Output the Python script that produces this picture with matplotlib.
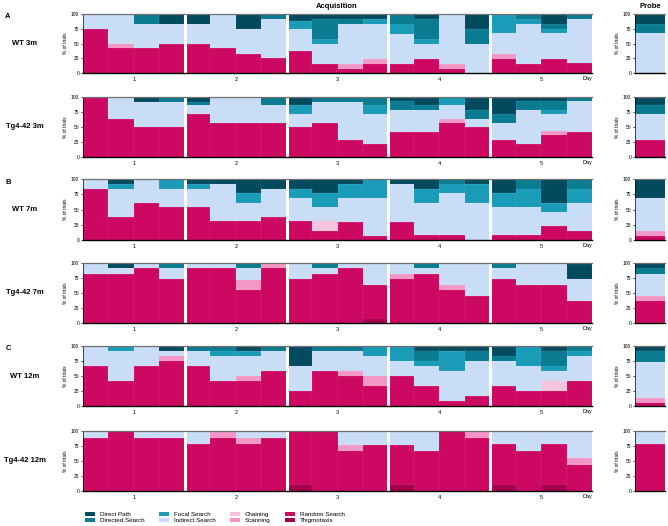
import numpy as np
import matplotlib.pyplot as plt
from matplotlib.patches import Patch

plt.rcParams['font.family'] = ['Liberation Sans', 'DejaVu Sans']

# stacking order, bottom to top
categories = ["Thigmotaxis", "Random Search", "Scanning", "Chaining",
              "Indirect Search", "Focal Search", "Directed Search", "Direct Path"]
colors = {
    "Direct Path": "#024b5f",
    "Directed Search": "#0a7b90",
    "Focal Search": "#1a9bb8",
    "Indirect Search": "#c9ddf6",
    "Chaining": "#f8c3df",
    "Scanning": "#f597c6",
    "Random Search": "#cd0862",
    "Thigmotaxis": "#a0004b",
}
legend_order = ["Direct Path", "Directed Search", "Focal Search", "Indirect Search",
                "Chaining", "Scanning", "Random Search", "Thigmotaxis"]
days = ["1", "2", "3", "4", "5"]
trials_per_day = 4

# % of trials per strategy, 5 days x 4 trials
wt_3m = {
    "Random Search":   [75, 42, 42, 50, 50, 42, 33, 25, 37, 16, 7, 16, 16, 24, 7, 0, 24, 16, 24, 17],
    "Scanning":        [0, 8, 0, 0, 0, 0, 0, 0, 0, 0, 9, 8, 0, 0, 9, 0, 9, 0, 0, 0],
    "Indirect Search": [25, 50, 41, 33, 33, 58, 42, 67, 38, 34, 67, 59, 50, 26, 84, 50, 34, 67, 43, 75],
    "Focal Search":    [0, 0, 0, 0, 0, 0, 0, 0, 13, 8, 0, 9, 17, 8, 0, 0, 33, 9, 8, 0],
    "Directed Search": [0, 0, 17, 0, 0, 0, 0, 8, 0, 33, 8, 0, 17, 34, 0, 25, 0, 8, 8, 8],
    "Direct Path":     [0, 0, 0, 17, 17, 0, 25, 0, 12, 9, 9, 8, 0, 8, 0, 25, 0, 0, 17, 0],
}
tg_3m = {
    "Random Search":   [100, 63, 50, 50, 71, 57, 57, 57, 50, 57, 28, 21, 41, 41, 57, 50, 28, 21, 36, 42],
    "Scanning":        [0, 0, 0, 0, 0, 0, 0, 0, 0, 0, 0, 0, 0, 0, 7, 0, 0, 0, 7, 0],
    "Indirect Search": [0, 37, 42, 42, 15, 43, 43, 29, 21, 35, 64, 50, 38, 38, 22, 14, 29, 58, 28, 51],
    "Focal Search":    [0, 0, 0, 0, 0, 0, 0, 0, 15, 0, 0, 15, 0, 0, 14, 0, 0, 0, 8, 0],
    "Directed Search": [0, 0, 0, 8, 6, 0, 0, 14, 0, 8, 8, 14, 14, 7, 0, 15, 14, 14, 14, 7],
    "Direct Path":     [0, 0, 8, 0, 8, 0, 0, 0, 14, 0, 0, 0, 7, 14, 0, 21, 29, 7, 7, 0],
}
wt_7m = {
    "Random Search":   [84, 38, 61, 54, 54, 31, 31, 38, 31, 15, 30, 7, 30, 8, 8, 0, 8, 8, 23, 15],
    "Chaining":        [0, 0, 0, 0, 0, 0, 0, 0, 0, 16, 0, 0, 0, 0, 0, 0, 0, 0, 0, 0],
    "Indirect Search": [16, 46, 39, 30, 30, 61, 30, 46, 38, 23, 39, 62, 62, 53, 69, 61, 46, 46, 23, 46],
    "Focal Search":    [0, 8, 0, 16, 8, 0, 16, 0, 15, 23, 23, 31, 0, 23, 15, 31, 23, 30, 15, 23],
    "Directed Search": [0, 0, 0, 0, 0, 0, 0, 0, 0, 0, 0, 0, 0, 0, 8, 0, 0, 16, 0, 16],
    "Direct Path":     [0, 8, 0, 0, 8, 8, 23, 16, 16, 23, 8, 0, 8, 16, 0, 8, 23, 0, 39, 0],
}
tg_7m = {
    "Thigmotaxis":     [0, 0, 0, 0, 0, 0, 0, 0, 0, 0, 0, 7, 0, 0, 0, 0, 0, 0, 0, 0],
    "Random Search":   [82, 82, 92, 73, 92, 92, 55, 92, 73, 82, 92, 57, 73, 82, 55, 45, 73, 64, 64, 36],
    "Scanning":        [0, 0, 0, 0, 0, 0, 17, 8, 0, 0, 0, 0, 9, 0, 9, 0, 0, 0, 0, 0],
    "Indirect Search": [18, 10, 8, 19, 8, 8, 20, 0, 27, 10, 8, 36, 18, 10, 36, 55, 19, 36, 36, 37],
    "Directed Search": [0, 0, 0, 8, 0, 0, 8, 0, 0, 8, 0, 0, 0, 8, 0, 0, 8, 0, 0, 0],
    "Direct Path":     [0, 8, 0, 0, 0, 0, 0, 0, 0, 0, 0, 0, 0, 0, 0, 0, 0, 0, 0, 27],
}
wt_12m = {
    "Random Search":   [67, 41, 67, 75, 67, 41, 41, 58, 25, 58, 50, 33, 50, 33, 8, 17, 33, 25, 25, 41],
    "Scanning":        [0, 0, 0, 8, 0, 0, 9, 0, 0, 0, 8, 17, 0, 0, 0, 0, 0, 0, 0, 0],
    "Chaining":        [0, 0, 0, 0, 0, 0, 0, 0, 0, 0, 0, 0, 0, 0, 0, 0, 0, 0, 17, 0],
    "Indirect Search": [33, 51, 33, 9, 25, 42, 33, 34, 42, 34, 34, 33, 25, 34, 50, 58, 42, 42, 16, 42],
    "Focal Search":    [0, 8, 0, 0, 0, 9, 9, 0, 0, 0, 0, 17, 25, 8, 34, 0, 0, 33, 9, 9],
    "Directed Search": [0, 0, 0, 0, 8, 8, 0, 8, 0, 8, 8, 0, 0, 17, 0, 17, 8, 0, 25, 8],
    "Direct Path":     [0, 0, 0, 8, 0, 0, 8, 0, 33, 0, 0, 0, 0, 8, 8, 8, 17, 0, 8, 0],
}
tg_12m = {
    "Thigmotaxis":     [0, 0, 0, 0, 0, 0, 0, 0, 10, 0, 0, 0, 10, 0, 0, 0, 10, 0, 10, 0],
    "Random Search":   [89, 100, 89, 89, 78, 89, 78, 89, 90, 100, 66, 77, 67, 66, 100, 88, 68, 67, 68, 44],
    "Scanning":        [0, 0, 0, 0, 0, 11, 11, 0, 0, 0, 11, 0, 0, 0, 0, 12, 0, 0, 0, 11],
    "Indirect Search": [11, 0, 11, 11, 22, 0, 11, 11, 0, 0, 23, 23, 23, 34, 0, 0, 22, 33, 22, 45],
}

probe_wt_3m = {"Indirect Search": 67, "Directed Search": 16, "Direct Path": 17}
probe_tg_3m = {"Random Search": 28, "Indirect Search": 44, "Directed Search": 14, "Direct Path": 14}
probe_wt_7m = {"Random Search": 7, "Scanning": 8, "Indirect Search": 54, "Direct Path": 31}
probe_tg_7m = {"Random Search": 36, "Scanning": 9, "Indirect Search": 37, "Directed Search": 10, "Direct Path": 8}
probe_wt_12m = {"Random Search": 5, "Scanning": 8, "Indirect Search": 61, "Directed Search": 18, "Direct Path": 8}
probe_tg_12m = {"Random Search": 78, "Indirect Search": 22}

row_labels = ["WT 3m", "Tg4-42 3m", "WT 7m", "Tg4-42 7m", "WT 12m", "Tg4-42 12m"]
acq_data = [wt_3m, tg_3m, wt_7m, tg_7m, wt_12m, tg_12m]
probe_data = [probe_wt_3m, probe_tg_3m, probe_wt_7m, probe_tg_7m, probe_wt_12m, probe_tg_12m]

W, H = 668, 526
fig = plt.figure(figsize=(W / 100, H / 100), dpi=100)

# panel tops/bottoms in pixels
rows_px = [(14, 73), (97, 157), (179, 240), (263, 323), (346, 406), (431, 491)]


def px_axes(x0, y0, x1, y1):
    return fig.add_axes([x0 / W, 1 - y1 / H, (x1 - x0) / W, (y1 - y0) / H])


def style_axes(ax):
    ax.set_ylim(0, 100)
    ax.set_yticks([0, 25, 50, 75, 100])
    ax.tick_params(axis="y", labelsize=3.5, length=1.8, width=0.5, pad=1)
    ax.set_ylabel("% of trials", fontsize=3.5, labelpad=2)
    ax.spines["right"].set_visible(False)
    ax.spines["top"].set_color("#707070")
    ax.spines["top"].set_linewidth(0.9)
    ax.spines["left"].set_linewidth(0.5)
    ax.spines["bottom"].set_linewidth(1.0)


def stack(ax, x, data, n):
    bottom = np.zeros(n)
    for cat in categories:
        vals = np.array(data.get(cat, [0] * n), dtype=float).reshape(n)
        ax.bar(x, vals, width=1.0, bottom=bottom, color=colors[cat],
               edgecolor=(1, 1, 1, 0.12), linewidth=0.3)
        bottom += vals


for i, (data, pdata) in enumerate(zip(acq_data, probe_data)):
    y0, y1 = rows_px[i]
    n = len(days) * trials_per_day

    ax = px_axes(83, y0, 592, y1)
    stack(ax, np.arange(n) + 0.5, data, n)
    for d in range(1, len(days)):
        ax.axvline(d * trials_per_day, color="white", lw=2.2)
    ax.set_xlim(0, n)
    ax.set_xticks(np.arange(len(days)) * trials_per_day + trials_per_day / 2)
    ax.set_xticklabels(days)
    ax.tick_params(axis="x", labelsize=4, length=0, pad=3)
    style_axes(ax)
    ax.text(1.0, -0.05, "Day", transform=ax.transAxes, ha="right", va="top", fontsize=4)

    pax = px_axes(635, y0, 665, y1)
    pvals = {k: [v] for k, v in pdata.items()}
    stack(pax, [0.5], pvals, 1)
    pax.set_xlim(0, 1)
    pax.set_xticks([])
    style_axes(pax)

    fig.text(25 / W, 1 - ((y0 + y1) / 2) / H, row_labels[i], ha="center", va="center",
             fontsize=5.5, fontweight="bold")

fig.text(337 / W, 1 - 6 / H, "Acquisition", ha="center", va="center", fontsize=5.5, fontweight="bold")
fig.text(650 / W, 1 - 6 / H, "Probe", ha="center", va="center", fontsize=5.5, fontweight="bold")
for letter, yp in [("A", 17), ("B", 182), ("C", 348)]:
    fig.text(8 / W, 1 - yp / H, letter, ha="center", va="center", fontsize=5.5, fontweight="bold")

handles = [Patch(facecolor=colors[c], edgecolor="none") for c in legend_order]
fig.legend(handles, legend_order, ncol=4, loc="lower left", bbox_to_anchor=(82 / W, 0.0),
           fontsize=4.5, frameon=False, handlelength=1.5, handleheight=0.6,
           columnspacing=2.4, labelspacing=0.05, handletextpad=0.8, borderaxespad=0.1)

fig.savefig("out.png", dpi=100)
